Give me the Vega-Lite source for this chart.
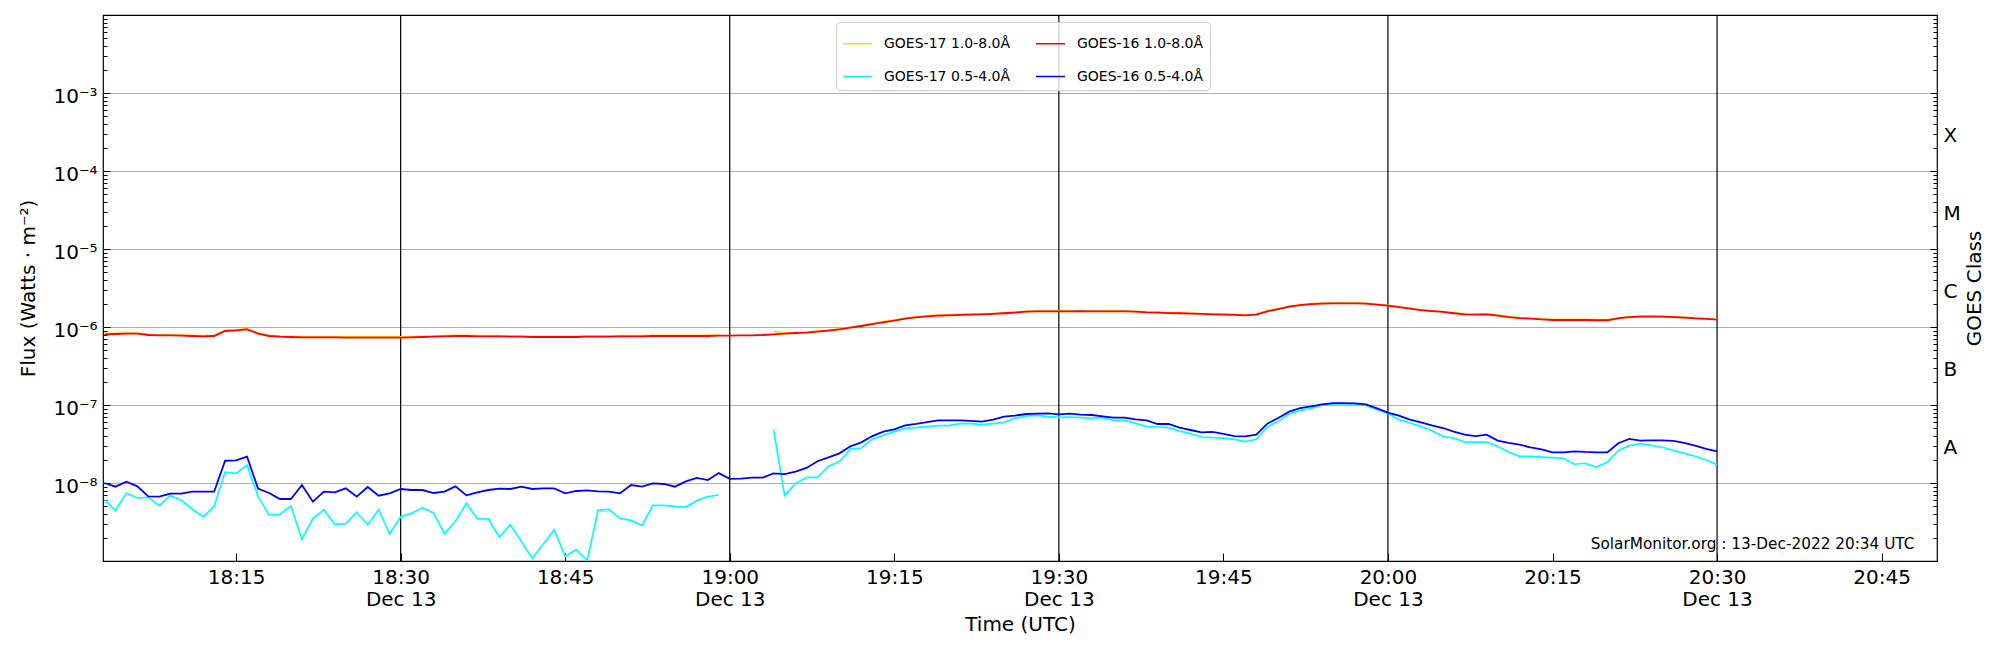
{
  "$schema": "https://vega.github.io/schema/vega-lite/v6.json",
  "width": 1834,
  "height": 546,
  "autosize": {"type": "none"},
  "padding": {"left": 103, "top": 15, "right": 63, "bottom": 89},
  "background": "white",
  "data": {
    "values": [
      {"t": "2022-12-13T18:03:00Z", "g17l": 8.2e-7, "g17s": 6.11e-9, "g16l": 8.05e-7, "g16s": 1.0e-8},
      {"t": "2022-12-13T18:04:00Z", "g17l": 8.3e-7, "g17s": 4.42e-9, "g16l": 8.13e-7, "g16s": 8.97e-9},
      {"t": "2022-12-13T18:05:00Z", "g17l": 8.35e-7, "g17s": 7.44e-9, "g16l": 8.21e-7, "g16s": 1.04e-8},
      {"t": "2022-12-13T18:06:00Z", "g17l": 8.35e-7, "g17s": 6.42e-9, "g16l": 8.21e-7, "g16s": 9.06e-9},
      {"t": "2022-12-13T18:07:00Z", "g17l": 8.05e-7, "g17s": 6.55e-9, "g16l": 7.9e-7, "g16s": 6.75e-9},
      {"t": "2022-12-13T18:08:00Z", "g17l": 7.95e-7, "g17s": 5.12e-9, "g16l": 7.82e-7, "g16s": 6.68e-9},
      {"t": "2022-12-13T18:09:00Z", "g17l": 7.95e-7, "g17s": 6.88e-9, "g16l": 7.82e-7, "g16s": 7.3e-9},
      {"t": "2022-12-13T18:10:00Z", "g17l": 7.9e-7, "g17s": 6.05e-9, "g16l": 7.74e-7, "g16s": 7.3e-9},
      {"t": "2022-12-13T18:11:00Z", "g17l": 7.8e-7, "g17s": 4.64e-9, "g16l": 7.67e-7, "g16s": 7.74e-9},
      {"t": "2022-12-13T18:12:00Z", "g17l": 7.75e-7, "g17s": 3.67e-9, "g16l": 7.59e-7, "g16s": 7.74e-9},
      {"t": "2022-12-13T18:13:00Z", "g17l": 7.8e-7, "g17s": 5.02e-9, "g16l": 7.67e-7, "g16s": 7.74e-9},
      {"t": "2022-12-13T18:14:00Z", "g17l": 9.05e-7, "g17s": 1.38e-8, "g16l": 8.89e-7, "g16s": 1.93e-8},
      {"t": "2022-12-13T18:15:00Z", "g17l": 9.2e-7, "g17s": 1.33e-8, "g16l": 9.06e-7, "g16s": 1.95e-8},
      {"t": "2022-12-13T18:16:00Z", "g17l": 9.5e-7, "g17s": 1.7e-8, "g16l": 9.33e-7, "g16s": 2.18e-8},
      {"t": "2022-12-13T18:17:00Z", "g17l": 8.35e-7, "g17s": 6.75e-9, "g16l": 8.21e-7, "g16s": 8.46e-9},
      {"t": "2022-12-13T18:18:00Z", "g17l": 7.8e-7, "g17s": 3.89e-9, "g16l": 7.67e-7, "g16s": 7.44e-9},
      {"t": "2022-12-13T18:19:00Z", "g17l": 7.65e-7, "g17s": 3.97e-9, "g16l": 7.52e-7, "g16s": 6.24e-9},
      {"t": "2022-12-13T18:20:00Z", "g17l": 7.6e-7, "g17s": 5.07e-9, "g16l": 7.44e-7, "g16s": 6.24e-9},
      {"t": "2022-12-13T18:21:00Z", "g17l": 7.5e-7, "g17s": 1.9e-9, "g16l": 7.37e-7, "g16s": 9.43e-9},
      {"t": "2022-12-13T18:22:00Z", "g17l": 7.5e-7, "g17s": 3.49e-9, "g16l": 7.37e-7, "g16s": 5.77e-9},
      {"t": "2022-12-13T18:23:00Z", "g17l": 7.5e-7, "g17s": 4.55e-9, "g16l": 7.37e-7, "g16s": 7.74e-9},
      {"t": "2022-12-13T18:24:00Z", "g17l": 7.5e-7, "g17s": 2.95e-9, "g16l": 7.37e-7, "g16s": 7.59e-9},
      {"t": "2022-12-13T18:25:00Z", "g17l": 7.45e-7, "g17s": 3.01e-9, "g16l": 7.3e-7, "g16s": 8.54e-9},
      {"t": "2022-12-13T18:26:00Z", "g17l": 7.45e-7, "g17s": 4.21e-9, "g16l": 7.3e-7, "g16s": 6.68e-9},
      {"t": "2022-12-13T18:27:00Z", "g17l": 7.45e-7, "g17s": 2.92e-9, "g16l": 7.3e-7, "g16s": 8.89e-9},
      {"t": "2022-12-13T18:28:00Z", "g17l": 7.45e-7, "g17s": 4.55e-9, "g16l": 7.3e-7, "g16s": 6.88e-9},
      {"t": "2022-12-13T18:29:00Z", "g17l": 7.45e-7, "g17s": 2.22e-9, "g16l": 7.3e-7, "g16s": 7.37e-9},
      {"t": "2022-12-13T18:30:00Z", "g17l": 7.45e-7, "g17s": 3.7e-9, "g16l": 7.3e-7, "g16s": 8.38e-9},
      {"t": "2022-12-13T18:31:00Z", "g17l": 7.5e-7, "g17s": 4.08e-9, "g16l": 7.37e-7, "g16s": 8.13e-9},
      {"t": "2022-12-13T18:32:00Z", "g17l": 7.6e-7, "g17s": 4.83e-9, "g16l": 7.44e-7, "g16s": 8.13e-9},
      {"t": "2022-12-13T18:33:00Z", "g17l": 7.65e-7, "g17s": 4.13e-9, "g16l": 7.52e-7, "g16s": 7.44e-9},
      {"t": "2022-12-13T18:34:00Z", "g17l": 7.75e-7, "g17s": 2.24e-9, "g16l": 7.59e-7, "g16s": 7.74e-9},
      {"t": "2022-12-13T18:35:00Z", "g17l": 7.8e-7, "g17s": 3.23e-9, "g16l": 7.67e-7, "g16s": 9.06e-9},
      {"t": "2022-12-13T18:36:00Z", "g17l": 7.8e-7, "g17s": 5.49e-9, "g16l": 7.67e-7, "g16s": 6.95e-9},
      {"t": "2022-12-13T18:37:00Z", "g17l": 7.75e-7, "g17s": 3.46e-9, "g16l": 7.59e-7, "g16s": 7.59e-9},
      {"t": "2022-12-13T18:38:00Z", "g17l": 7.75e-7, "g17s": 3.46e-9, "g16l": 7.59e-7, "g16s": 8.13e-9},
      {"t": "2022-12-13T18:39:00Z", "g17l": 7.75e-7, "g17s": 2.03e-9, "g16l": 7.59e-7, "g16s": 8.46e-9},
      {"t": "2022-12-13T18:40:00Z", "g17l": 7.65e-7, "g17s": 2.92e-9, "g16l": 7.52e-7, "g16s": 8.38e-9},
      {"t": "2022-12-13T18:41:00Z", "g17l": 7.65e-7, "g17s": 1.79e-9, "g16l": 7.52e-7, "g16s": 8.97e-9},
      {"t": "2022-12-13T18:42:00Z", "g17l": 7.6e-7, "g17s": 1.08e-9, "g16l": 7.44e-7, "g16s": 8.38e-9},
      {"t": "2022-12-13T18:43:00Z", "g17l": 7.6e-7, "g17s": 1.65e-9, "g16l": 7.44e-7, "g16s": 8.54e-9},
      {"t": "2022-12-13T18:44:00Z", "g17l": 7.6e-7, "g17s": 2.52e-9, "g16l": 7.44e-7, "g16s": 8.54e-9},
      {"t": "2022-12-13T18:45:00Z", "g17l": 7.6e-7, "g17s": 1.15e-9, "g16l": 7.44e-7, "g16s": 7.37e-9},
      {"t": "2022-12-13T18:46:00Z", "g17l": 7.6e-7, "g17s": 1.4e-9, "g16l": 7.44e-7, "g16s": 7.9e-9},
      {"t": "2022-12-13T18:47:00Z", "g17l": 7.65e-7, "g17s": 1.02e-9, "g16l": 7.52e-7, "g16s": 8.05e-9},
      {"t": "2022-12-13T18:48:00Z", "g17l": 7.65e-7, "g17s": 4.46e-9, "g16l": 7.52e-7, "g16s": 7.82e-9},
      {"t": "2022-12-13T18:49:00Z", "g17l": 7.65e-7, "g17s": 4.6e-9, "g16l": 7.52e-7, "g16s": 7.74e-9},
      {"t": "2022-12-13T18:50:00Z", "g17l": 7.75e-7, "g17s": 3.52e-9, "g16l": 7.59e-7, "g16s": 7.37e-9},
      {"t": "2022-12-13T18:51:00Z", "g17l": 7.75e-7, "g17s": 3.32e-9, "g16l": 7.59e-7, "g16s": 9.43e-9},
      {"t": "2022-12-13T18:52:00Z", "g17l": 7.75e-7, "g17s": 2.87e-9, "g16l": 7.59e-7, "g16s": 8.97e-9},
      {"t": "2022-12-13T18:53:00Z", "g17l": 7.8e-7, "g17s": 5.17e-9, "g16l": 7.67e-7, "g16s": 9.9e-9},
      {"t": "2022-12-13T18:54:00Z", "g17l": 7.8e-7, "g17s": 5.17e-9, "g16l": 7.67e-7, "g16s": 9.71e-9},
      {"t": "2022-12-13T18:55:00Z", "g17l": 7.8e-7, "g17s": 5.02e-9, "g16l": 7.67e-7, "g16s": 8.97e-9},
      {"t": "2022-12-13T18:56:00Z", "g17l": 7.8e-7, "g17s": 4.92e-9, "g16l": 7.67e-7, "g16s": 1.05e-8},
      {"t": "2022-12-13T18:57:00Z", "g17l": 7.8e-7, "g17s": 5.94e-9, "g16l": 7.67e-7, "g16s": 1.16e-8},
      {"t": "2022-12-13T18:58:00Z", "g17l": 7.8e-7, "g17s": 6.68e-9, "g16l": 7.67e-7, "g16s": 1.09e-8},
      {"t": "2022-12-13T18:59:00Z", "g17l": 7.9e-7, "g17s": 7.02e-9, "g16l": 7.74e-7, "g16s": 1.34e-8},
      {"t": "2022-12-13T19:00:00Z", "g17l": null, "g17s": null, "g16l": 7.74e-7, "g16s": 1.13e-8},
      {"t": "2022-12-13T19:01:00Z", "g17l": null, "g17s": null, "g16l": 7.82e-7, "g16s": 1.14e-8},
      {"t": "2022-12-13T19:02:00Z", "g17l": null, "g17s": null, "g16l": 7.82e-7, "g16s": 1.17e-8},
      {"t": "2022-12-13T19:03:00Z", "g17l": null, "g17s": null, "g16l": 7.9e-7, "g16s": 1.17e-8},
      {"t": "2022-12-13T19:04:00Z", "g17l": 8.8e-7, "g17s": 4.83e-8, "g16l": 8.05e-7, "g16s": 1.33e-8},
      {"t": "2022-12-13T19:05:00Z", "g17l": 8.35e-7, "g17s": 6.88e-9, "g16l": 8.21e-7, "g16s": 1.3e-8},
      {"t": "2022-12-13T19:06:00Z", "g17l": 8.5e-7, "g17s": 9.9e-9, "g16l": 8.38e-7, "g16s": 1.4e-8},
      {"t": "2022-12-13T19:07:00Z", "g17l": 8.6e-7, "g17s": 1.18e-8, "g16l": 8.46e-7, "g16s": 1.56e-8},
      {"t": "2022-12-13T19:08:00Z", "g17l": 8.85e-7, "g17s": 1.18e-8, "g16l": 8.71e-7, "g16s": 1.9e-8},
      {"t": "2022-12-13T19:09:00Z", "g17l": 9.1e-7, "g17s": 1.64e-8, "g16l": 8.97e-7, "g16s": 2.13e-8},
      {"t": "2022-12-13T19:10:00Z", "g17l": 9.5e-7, "g17s": 1.88e-8, "g16l": 9.33e-7, "g16s": 2.4e-8},
      {"t": "2022-12-13T19:11:00Z", "g17l": 9.95e-7, "g17s": 2.73e-8, "g16l": 9.8e-7, "g16s": 2.95e-8},
      {"t": "2022-12-13T19:12:00Z", "g17l": 1.045e-6, "g17s": 2.81e-8, "g16l": 1.03e-6, "g16s": 3.32e-8},
      {"t": "2022-12-13T19:13:00Z", "g17l": 1.11e-6, "g17s": 3.67e-8, "g16l": 1.09e-6, "g16s": 4.0e-8},
      {"t": "2022-12-13T19:14:00Z", "g17l": 1.17e-6, "g17s": 4.08e-8, "g16l": 1.15e-6, "g16s": 4.55e-8},
      {"t": "2022-12-13T19:15:00Z", "g17l": 1.23e-6, "g17s": 4.55e-8, "g16l": 1.21e-6, "g16s": 4.88e-8},
      {"t": "2022-12-13T19:16:00Z", "g17l": 1.3e-6, "g17s": 5.02e-8, "g16l": 1.28e-6, "g16s": 5.49e-8},
      {"t": "2022-12-13T19:17:00Z", "g17l": 1.35e-6, "g17s": 5.12e-8, "g16l": 1.33e-6, "g16s": 5.71e-8},
      {"t": "2022-12-13T19:18:00Z", "g17l": 1.39e-6, "g17s": 5.28e-8, "g16l": 1.37e-6, "g16s": 6.05e-8},
      {"t": "2022-12-13T19:19:00Z", "g17l": 1.42e-6, "g17s": 5.43e-8, "g16l": 1.4e-6, "g16s": 6.36e-8},
      {"t": "2022-12-13T19:20:00Z", "g17l": 1.43e-6, "g17s": 5.43e-8, "g16l": 1.41e-6, "g16s": 6.36e-8},
      {"t": "2022-12-13T19:21:00Z", "g17l": 1.45e-6, "g17s": 5.77e-8, "g16l": 1.43e-6, "g16s": 6.36e-8},
      {"t": "2022-12-13T19:22:00Z", "g17l": 1.46e-6, "g17s": 5.77e-8, "g16l": 1.44e-6, "g16s": 6.24e-8},
      {"t": "2022-12-13T19:23:00Z", "g17l": 1.47e-6, "g17s": 5.6e-8, "g16l": 1.45e-6, "g16s": 6.11e-8},
      {"t": "2022-12-13T19:24:00Z", "g17l": 1.49e-6, "g17s": 5.77e-8, "g16l": 1.47e-6, "g16s": 6.49e-8},
      {"t": "2022-12-13T19:25:00Z", "g17l": 1.52e-6, "g17s": 6.0e-8, "g16l": 1.5e-6, "g16s": 7.09e-8},
      {"t": "2022-12-13T19:26:00Z", "g17l": 1.55e-6, "g17s": 6.75e-8, "g16l": 1.53e-6, "g16s": 7.3e-8},
      {"t": "2022-12-13T19:27:00Z", "g17l": 1.59e-6, "g17s": 7.23e-8, "g16l": 1.57e-6, "g16s": 7.67e-8},
      {"t": "2022-12-13T19:28:00Z", "g17l": 1.61e-6, "g17s": 7.37e-8, "g16l": 1.59e-6, "g16s": 7.74e-8},
      {"t": "2022-12-13T19:29:00Z", "g17l": 1.61e-6, "g17s": 7.09e-8, "g16l": 1.59e-6, "g16s": 7.82e-8},
      {"t": "2022-12-13T19:30:00Z", "g17l": 1.61e-6, "g17s": 6.95e-8, "g16l": 1.59e-6, "g16s": 7.59e-8},
      {"t": "2022-12-13T19:31:00Z", "g17l": 1.61e-6, "g17s": 7.02e-8, "g16l": 1.59e-6, "g16s": 7.74e-8},
      {"t": "2022-12-13T19:32:00Z", "g17l": 1.62e-6, "g17s": 6.88e-8, "g16l": 1.6e-6, "g16s": 7.52e-8},
      {"t": "2022-12-13T19:33:00Z", "g17l": 1.61e-6, "g17s": 6.75e-8, "g16l": 1.59e-6, "g16s": 7.44e-8},
      {"t": "2022-12-13T19:34:00Z", "g17l": 1.61e-6, "g17s": 6.95e-8, "g16l": 1.59e-6, "g16s": 7.16e-8},
      {"t": "2022-12-13T19:35:00Z", "g17l": 1.61e-6, "g17s": 6.36e-8, "g16l": 1.59e-6, "g16s": 6.88e-8},
      {"t": "2022-12-13T19:36:00Z", "g17l": 1.61e-6, "g17s": 6.36e-8, "g16l": 1.59e-6, "g16s": 6.88e-8},
      {"t": "2022-12-13T19:37:00Z", "g17l": 1.59e-6, "g17s": 5.82e-8, "g16l": 1.57e-6, "g16s": 6.55e-8},
      {"t": "2022-12-13T19:38:00Z", "g17l": 1.56e-6, "g17s": 5.33e-8, "g16l": 1.54e-6, "g16s": 6.36e-8},
      {"t": "2022-12-13T19:39:00Z", "g17l": 1.55e-6, "g17s": 5.22e-8, "g16l": 1.53e-6, "g16s": 5.71e-8},
      {"t": "2022-12-13T19:40:00Z", "g17l": 1.53e-6, "g17s": 5.12e-8, "g16l": 1.51e-6, "g16s": 5.71e-8},
      {"t": "2022-12-13T19:41:00Z", "g17l": 1.52e-6, "g17s": 4.64e-8, "g16l": 1.5e-6, "g16s": 5.12e-8},
      {"t": "2022-12-13T19:42:00Z", "g17l": 1.5e-6, "g17s": 4.29e-8, "g16l": 1.48e-6, "g16s": 4.78e-8},
      {"t": "2022-12-13T19:43:00Z", "g17l": 1.49e-6, "g17s": 3.89e-8, "g16l": 1.47e-6, "g16s": 4.46e-8},
      {"t": "2022-12-13T19:44:00Z", "g17l": 1.47e-6, "g17s": 3.81e-8, "g16l": 1.45e-6, "g16s": 4.51e-8},
      {"t": "2022-12-13T19:45:00Z", "g17l": 1.46e-6, "g17s": 3.77e-8, "g16l": 1.44e-6, "g16s": 4.25e-8},
      {"t": "2022-12-13T19:46:00Z", "g17l": 1.45e-6, "g17s": 3.63e-8, "g16l": 1.43e-6, "g16s": 4.0e-8},
      {"t": "2022-12-13T19:47:00Z", "g17l": 1.43e-6, "g17s": 3.39e-8, "g16l": 1.41e-6, "g16s": 3.97e-8},
      {"t": "2022-12-13T19:48:00Z", "g17l": 1.46e-6, "g17s": 3.63e-8, "g16l": 1.44e-6, "g16s": 4.17e-8},
      {"t": "2022-12-13T19:49:00Z", "g17l": 1.61e-6, "g17s": 5.28e-8, "g16l": 1.59e-6, "g16s": 5.77e-8},
      {"t": "2022-12-13T19:50:00Z", "g17l": 1.72e-6, "g17s": 6.17e-8, "g16l": 1.7e-6, "g16s": 6.81e-8},
      {"t": "2022-12-13T19:51:00Z", "g17l": 1.84e-6, "g17s": 7.67e-8, "g16l": 1.82e-6, "g16s": 8.21e-8},
      {"t": "2022-12-13T19:52:00Z", "g17l": 1.93e-6, "g17s": 8.54e-8, "g16l": 1.91e-6, "g16s": 9.15e-8},
      {"t": "2022-12-13T19:53:00Z", "g17l": 1.99e-6, "g17s": 9.06e-8, "g16l": 1.97e-6, "g16s": 9.61e-8},
      {"t": "2022-12-13T19:54:00Z", "g17l": 2.01e-6, "g17s": 1.0e-7, "g16l": 1.99e-6, "g16s": 1.02e-7},
      {"t": "2022-12-13T19:55:00Z", "g17l": 2.03e-6, "g17s": 1.03e-7, "g16l": 2.01e-6, "g16s": 1.06e-7},
      {"t": "2022-12-13T19:56:00Z", "g17l": 2.03e-6, "g17s": 1.03e-7, "g16l": 2.01e-6, "g16s": 1.06e-7},
      {"t": "2022-12-13T19:57:00Z", "g17l": 2.03e-6, "g17s": 1.03e-7, "g16l": 2.01e-6, "g16s": 1.05e-7},
      {"t": "2022-12-13T19:58:00Z", "g17l": 2.01e-6, "g17s": 9.9e-8, "g16l": 1.99e-6, "g16s": 1.02e-7},
      {"t": "2022-12-13T19:59:00Z", "g17l": 1.95e-6, "g17s": 8.8e-8, "g16l": 1.93e-6, "g16s": 9.06e-8},
      {"t": "2022-12-13T20:00:00Z", "g17l": 1.9e-6, "g17s": 7.82e-8, "g16l": 1.88e-6, "g16s": 7.97e-8},
      {"t": "2022-12-13T20:01:00Z", "g17l": 1.82e-6, "g17s": 6.49e-8, "g16l": 1.8e-6, "g16s": 7.3e-8},
      {"t": "2022-12-13T20:02:00Z", "g17l": 1.74e-6, "g17s": 5.88e-8, "g16l": 1.72e-6, "g16s": 6.49e-8},
      {"t": "2022-12-13T20:03:00Z", "g17l": 1.67e-6, "g17s": 5.33e-8, "g16l": 1.65e-6, "g16s": 6.0e-8},
      {"t": "2022-12-13T20:04:00Z", "g17l": 1.62e-6, "g17s": 4.69e-8, "g16l": 1.6e-6, "g16s": 5.49e-8},
      {"t": "2022-12-13T20:05:00Z", "g17l": 1.58e-6, "g17s": 3.97e-8, "g16l": 1.56e-6, "g16s": 5.07e-8},
      {"t": "2022-12-13T20:06:00Z", "g17l": 1.52e-6, "g17s": 3.77e-8, "g16l": 1.5e-6, "g16s": 4.55e-8},
      {"t": "2022-12-13T20:07:00Z", "g17l": 1.47e-6, "g17s": 3.35e-8, "g16l": 1.45e-6, "g16s": 4.17e-8},
      {"t": "2022-12-13T20:08:00Z", "g17l": 1.46e-6, "g17s": 3.35e-8, "g16l": 1.44e-6, "g16s": 4.0e-8},
      {"t": "2022-12-13T20:09:00Z", "g17l": 1.47e-6, "g17s": 3.35e-8, "g16l": 1.45e-6, "g16s": 4.17e-8},
      {"t": "2022-12-13T20:10:00Z", "g17l": 1.42e-6, "g17s": 2.95e-8, "g16l": 1.4e-6, "g16s": 3.49e-8},
      {"t": "2022-12-13T20:11:00Z", "g17l": 1.36e-6, "g17s": 2.5e-8, "g16l": 1.34e-6, "g16s": 3.26e-8},
      {"t": "2022-12-13T20:12:00Z", "g17l": 1.32e-6, "g17s": 2.2e-8, "g16l": 1.3e-6, "g16s": 3.1e-8},
      {"t": "2022-12-13T20:13:00Z", "g17l": 1.3e-6, "g17s": 2.2e-8, "g16l": 1.28e-6, "g16s": 2.87e-8},
      {"t": "2022-12-13T20:14:00Z", "g17l": 1.27e-6, "g17s": 2.15e-8, "g16l": 1.25e-6, "g16s": 2.7e-8},
      {"t": "2022-12-13T20:15:00Z", "g17l": 1.25e-6, "g17s": 2.11e-8, "g16l": 1.23e-6, "g16s": 2.47e-8},
      {"t": "2022-12-13T20:16:00Z", "g17l": 1.25e-6, "g17s": 2.07e-8, "g16l": 1.23e-6, "g16s": 2.47e-8},
      {"t": "2022-12-13T20:17:00Z", "g17l": 1.25e-6, "g17s": 1.74e-8, "g16l": 1.23e-6, "g16s": 2.55e-8},
      {"t": "2022-12-13T20:18:00Z", "g17l": 1.25e-6, "g17s": 1.79e-8, "g16l": 1.23e-6, "g16s": 2.5e-8},
      {"t": "2022-12-13T20:19:00Z", "g17l": 1.24e-6, "g17s": 1.6e-8, "g16l": 1.22e-6, "g16s": 2.47e-8},
      {"t": "2022-12-13T20:20:00Z", "g17l": 1.24e-6, "g17s": 1.84e-8, "g16l": 1.22e-6, "g16s": 2.47e-8},
      {"t": "2022-12-13T20:21:00Z", "g17l": 1.31e-6, "g17s": 2.62e-8, "g16l": 1.29e-6, "g16s": 3.23e-8},
      {"t": "2022-12-13T20:22:00Z", "g17l": 1.36e-6, "g17s": 3.01e-8, "g16l": 1.34e-6, "g16s": 3.67e-8},
      {"t": "2022-12-13T20:23:00Z", "g17l": 1.38e-6, "g17s": 3.19e-8, "g16l": 1.36e-6, "g16s": 3.49e-8},
      {"t": "2022-12-13T20:24:00Z", "g17l": 1.38e-6, "g17s": 3.04e-8, "g16l": 1.36e-6, "g16s": 3.52e-8},
      {"t": "2022-12-13T20:25:00Z", "g17l": 1.38e-6, "g17s": 2.87e-8, "g16l": 1.36e-6, "g16s": 3.52e-8},
      {"t": "2022-12-13T20:26:00Z", "g17l": 1.36e-6, "g17s": 2.62e-8, "g16l": 1.34e-6, "g16s": 3.46e-8},
      {"t": "2022-12-13T20:27:00Z", "g17l": 1.34e-6, "g17s": 2.42e-8, "g16l": 1.32e-6, "g16s": 3.26e-8},
      {"t": "2022-12-13T20:28:00Z", "g17l": 1.31e-6, "g17s": 2.2e-8, "g16l": 1.29e-6, "g16s": 3.01e-8},
      {"t": "2022-12-13T20:29:00Z", "g17l": 1.29e-6, "g17s": 1.99e-8, "g16l": 1.27e-6, "g16s": 2.73e-8},
      {"t": "2022-12-13T20:30:00Z", "g17l": 1.26e-6, "g17s": 1.72e-8, "g16l": 1.24e-6, "g16s": 2.55e-8}
    ]
  },
  "encoding": {
    "x": {
      "field": "t",
      "type": "temporal",
      "scale": {
        "type": "utc",
        "domain": [
          {"year": 2022, "month": 12, "date": 13, "hours": 18, "minutes": 2, "seconds": 52, "utc": true},
          {"year": 2022, "month": 12, "date": 13, "hours": 20, "minutes": 50, "seconds": 3, "utc": true}
        ]
      },
      "axis": {
        "title": "Time (UTC)",
        "titleFontSize": 20,
        "titlePadding": 5,
        "grid": false,
        "domain": false,
        "values": [
          {"year": 2022, "month": 12, "date": 13, "hours": 18, "minutes": 15, "utc": true},
          {"year": 2022, "month": 12, "date": 13, "hours": 18, "minutes": 30, "utc": true},
          {"year": 2022, "month": 12, "date": 13, "hours": 18, "minutes": 45, "utc": true},
          {"year": 2022, "month": 12, "date": 13, "hours": 19, "minutes": 0, "utc": true},
          {"year": 2022, "month": 12, "date": 13, "hours": 19, "minutes": 15, "utc": true},
          {"year": 2022, "month": 12, "date": 13, "hours": 19, "minutes": 30, "utc": true},
          {"year": 2022, "month": 12, "date": 13, "hours": 19, "minutes": 45, "utc": true},
          {"year": 2022, "month": 12, "date": 13, "hours": 20, "minutes": 0, "utc": true},
          {"year": 2022, "month": 12, "date": 13, "hours": 20, "minutes": 15, "utc": true},
          {"year": 2022, "month": 12, "date": 13, "hours": 20, "minutes": 30, "utc": true},
          {"year": 2022, "month": 12, "date": 13, "hours": 20, "minutes": 45, "utc": true}
        ],
        "tickSize": -8,
        "tickColor": "black",
        "labelFontSize": 20,
        "labelPadding": 14.5,
        "labelLineHeight": 22,
        "labelOverlap": false,
        "labelExpr": "(utcminutes(datum.value) % 30 == 0) ? [utcFormat(datum.value, '%H:%M'), utcFormat(datum.value, '%b %d')] : utcFormat(datum.value, '%H:%M')"
      }
    }
  },
  "layer": [
    {
      "data": {
        "values": [
          {"t": "2022-12-13T18:30:00Z"},
          {"t": "2022-12-13T19:00:00Z"},
          {"t": "2022-12-13T19:30:00Z"},
          {"t": "2022-12-13T20:00:00Z"},
          {"t": "2022-12-13T20:30:00Z"}
        ]
      },
      "mark": {"type": "rule", "color": "black", "strokeWidth": 1.2}
    },
    {
      "transform": [{"fold": ["g17l", "g17s"], "as": ["key", "flux"]}],
      "mark": {"type": "line", "strokeWidth": 1.7, "clip": true, "invalid": "break-paths-filter-domains"},
      "encoding": {
        "y": {
          "field": "flux",
          "type": "quantitative",
          "scale": {"type": "log", "domain": [1e-9, 1e-2]},
          "axis": {
            "orient": "left",
            "title": "Flux (Watts · m⁻²)",
            "titleFontSize": 20,
            "titlePadding": 14,
            "domain": false,
            "values": [1e-9, 2e-9, 3e-9, 4e-9, 5e-9, 6e-9, 7e-9, 8e-9, 9e-9, 1e-8, 2e-8, 3e-8, 4e-8, 5e-8, 6e-8, 7e-8, 8e-8, 9e-8, 1e-7, 2e-7, 3e-7, 4e-7, 5e-7, 6e-7, 7e-7, 8e-7, 9e-7, 1e-6, 2e-6, 3e-6, 4e-6, 5e-6, 6e-6, 7e-6, 8e-6, 9e-6, 1e-5, 2e-5, 3e-5, 4e-5, 5e-5, 6e-5, 7e-5, 8e-5, 9e-5, 1e-4, 2e-4, 3e-4, 4e-4, 5e-4, 6e-4, 7e-4, 8e-4, 9e-4, 1e-3, 2e-3, 3e-3, 4e-3, 5e-3, 6e-3, 7e-3, 8e-3, 9e-3, 1e-2],
            "tickColor": "black",
            "tickWidth": 1,
            "tickSize": {"condition": {"test": "abs(log(datum.value)/LN10 - round(log(datum.value)/LN10)) < 0.01", "value": -7}, "value": -4},
            "grid": true,
            "gridColor": "#b0b0b0",
            "gridWidth": 1,
            "gridOpacity": {"condition": {"test": "abs(log(datum.value)/LN10 - round(log(datum.value)/LN10)) < 0.01 && datum.value > 5e-9 && datum.value < 5e-3", "value": 1}, "value": 0},
            "labelFontSize": 20,
            "labelPadding": 13,
            "labelOffset": 3,
            "labelOverlap": false,
            "labelBound": false,
            "labelExpr": "(abs(log(datum.value)/LN10 - round(log(datum.value)/LN10)) < 0.01 && datum.value > 5e-9 && datum.value < 5e-3) ? '10⁻' + ['⁰','¹','²','³','⁴','⁵','⁶','⁷','⁸','⁹'][-round(log(datum.value)/LN10)] : ''"
          }
        },
        "color": {
          "field": "key",
          "type": "nominal",
          "scale": {"domain": ["g17l", "g17s", "g16l", "g16s"], "range": ["gold", "cyan", "red", "blue"]},
          "legend": {
            "orient": "none",
            "legendX": 733,
            "legendY": 7,
            "columns": 2,
            "title": null,
            "symbolType": "stroke",
            "symbolSize": 841,
            "symbolStrokeWidth": 1.5,
            "labelFontSize": 14,
            "labelOffset": 11,
            "rowPadding": 10,
            "columnPadding": 22,
            "padding": 6,
            "fillColor": "rgba(255,255,255,0.8)",
            "strokeColor": "#cccccc",
            "cornerRadius": 4,
            "labelExpr": "datum.label == 'g17l' ? 'GOES-17 1.0-8.0Å' : datum.label == 'g17s' ? 'GOES-17 0.5-4.0Å' : datum.label == 'g16l' ? 'GOES-16 1.0-8.0Å' : 'GOES-16 0.5-4.0Å'"
          }
        }
      }
    },
    {
      "transform": [{"fold": ["g16l", "g16s"], "as": ["key", "flux"]}],
      "mark": {"type": "line", "strokeWidth": 1.8, "clip": true, "invalid": "break-paths-filter-domains"},
      "encoding": {
        "y": {
          "field": "flux",
          "type": "quantitative",
          "scale": {"type": "log", "domain": [1e-9, 1e-2]},
          "axis": {
            "orient": "right",
            "title": "GOES Class",
            "titleFontSize": 20,
            "titleAngle": 270,
            "titleBaseline": "top",
            "titlePadding": 4,
            "domain": false,
            "grid": false,
            "values": [1e-9, 2e-9, 3e-9, 4e-9, 5e-9, 6e-9, 7e-9, 8e-9, 9e-9, 1e-8, 2e-8, 3e-8, 4e-8, 5e-8, 6e-8, 7e-8, 8e-8, 9e-8, 1e-7, 2e-7, 3e-7, 4e-7, 5e-7, 6e-7, 7e-7, 8e-7, 9e-7, 1e-6, 2e-6, 3e-6, 4e-6, 5e-6, 6e-6, 7e-6, 8e-6, 9e-6, 1e-5, 2e-5, 3e-5, 4e-5, 5e-5, 6e-5, 7e-5, 8e-5, 9e-5, 1e-4, 2e-4, 3e-4, 4e-4, 5e-4, 6e-4, 7e-4, 8e-4, 9e-4, 1e-3, 2e-3, 3e-3, 4e-3, 5e-3, 6e-3, 7e-3, 8e-3, 9e-3, 1e-2, 3.1623e-8, 3.1623e-7, 3.1623e-6, 3.1623e-5, 3.1623e-4],
            "tickColor": "black",
            "tickWidth": 1,
            "tickSize": {"condition": {"test": "abs(log(datum.value)/LN10 - round(log(datum.value)/LN10)) < 0.01", "value": -7}, "value": -4},
            "tickOpacity": {"condition": {"test": "abs(log(datum.value)/LN10 - floor(log(datum.value)/LN10) - 0.5) < 0.01", "value": 0}, "value": 1},
            "labelFontSize": 20,
            "labelPadding": 10,
            "labelOffset": 4,
            "labelOverlap": false,
            "labelBound": false,
            "labelExpr": "abs(log(datum.value)/LN10 - floor(log(datum.value)/LN10) - 0.5) < 0.01 ? ['X','M','C','B','A'][-4 - floor(log(datum.value)/LN10)] : ''"
          }
        },
        "color": {
          "field": "key",
          "type": "nominal",
          "scale": {"domain": ["g17l", "g17s", "g16l", "g16s"], "range": ["gold", "cyan", "red", "blue"]}
        }
      }
    },
    {
      "data": {"values": [{"t": "2022-12-13T20:48:00Z", "flux": 1.44e-9, "note": "SolarMonitor.org : 13-Dec-2022 20:34 UTC"}]},
      "mark": {"type": "text", "align": "right", "baseline": "alphabetic", "fontSize": 15.3, "color": "black"},
      "encoding": {
        "y": {"field": "flux", "type": "quantitative", "scale": {"type": "log", "domain": [1e-9, 1e-2]}, "axis": null},
        "text": {"field": "note"}
      }
    }
  ],
  "resolve": {"axis": {"y": "independent"}},
  "config": {
    "font": "DejaVu Sans",
    "view": {"stroke": "black", "strokeWidth": 1.2},
    "axis": {"labelColor": "black", "titleColor": "black", "titleFontWeight": "normal", "labelFont": "DejaVu Sans", "titleFont": "DejaVu Sans"},
    "legend": {"labelFont": "DejaVu Sans", "labelColor": "black"},
    "text": {"font": "DejaVu Sans"}
  }
}
